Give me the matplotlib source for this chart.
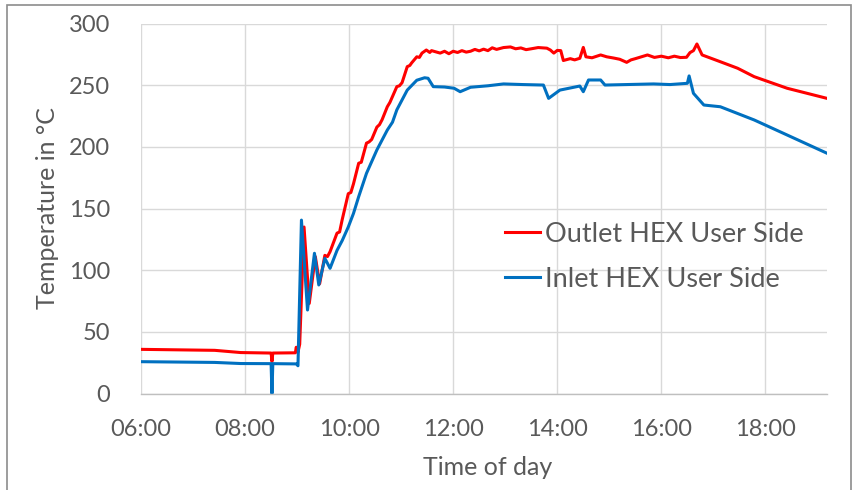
import matplotlib.pyplot as plt
import matplotlib.dates as mdates
from matplotlib.patches import Rectangle
import pandas as pd

# Outlet HEX User Side (red)
outlet_times = ["06:00", "07:25", "07:55", "08:30", "08:31", "08:32", "08:58", "08:59",
                "09:01", "09:03", "09:08", "09:14", "09:21", "09:26", "09:32", "09:35",
                "09:38", "09:46", "09:49", "09:52", "09:59", "10:02", "10:05", "10:11",
                "10:14", "10:20", "10:23", "10:26", "10:32", "10:35", "10:38", "10:44",
                "10:47", "10:55", "10:58", "11:01", "11:07", "11:10", "11:12", "11:18",
                "11:21", "11:24", "11:29", "11:33", "11:35", "11:40", "11:45", "11:50",
                "11:55", "12:00", "12:05", "12:10", "12:15", "12:20", "12:25", "12:30",
                "12:35", "12:40", "12:45", "12:50", "12:58", "13:06", "13:12", "13:18",
                "13:24", "13:30", "13:38", "13:48", "13:52", "13:56", "14:00", "14:04",
                "14:07", "14:15", "14:20", "14:26", "14:30", "14:33", "14:40", "14:50",
                "14:57", "15:05", "15:12", "15:20", "15:25", "15:30", "15:37", "15:44",
                "15:52", "16:00", "16:08", "16:15", "16:22", "16:29", "16:33", "16:37",
                "16:41", "16:47", "17:08", "17:28", "17:47", "18:25", "19:11"]
outlet_temp = [35.8, 35.0, 33.2, 32.8, 26.0, 32.8, 33.0, 37.5,
               33.5, 40.0, 135.0, 73.0, 111.0, 89.0, 112.0, 111.0,
               115.0, 130.0, 131.0, 141.0, 162.0, 163.0, 170.0, 186.7,
               187.5, 203.0, 204.0, 206.0, 216.0, 218.0, 222.0, 232.5,
               236.0, 248.8, 249.5, 252.0, 265.0, 266.0, 268.0, 273.0,
               272.5, 276.0, 278.5, 276.5, 278.0, 277.0, 276.0, 277.5,
               275.5, 277.5, 276.5, 278.0, 276.8, 277.5, 279.0, 277.8,
               279.2, 278.0, 280.3, 279.0, 280.5, 281.0, 279.5, 280.2,
               278.8, 279.5, 280.5, 280.0, 278.5, 276.0, 278.2, 278.0,
               270.0, 271.5, 270.5, 271.8, 280.6, 273.0, 272.2, 274.5,
               273.0, 272.0, 271.0, 268.5, 270.5, 271.5, 273.0, 274.5,
               272.5, 273.5, 272.2, 273.5, 272.4, 272.6, 276.4, 278.0,
               283.4, 274.5, 269.0, 263.7, 256.9, 247.5, 239.3]

# Inlet HEX User Side (blue)
inlet_times = ["06:00", "07:25", "07:55", "08:30", "08:31", "08:32", "08:59", "09:01",
               "09:05", "09:12", "09:20", "09:25", "09:32", "09:38", "09:46", "09:52",
               "09:59", "10:05", "10:11", "10:20", "10:26", "10:32", "10:44", "10:50",
               "10:55", "11:07", "11:18", "11:27", "11:31", "11:37", "11:50", "12:01",
               "12:08", "12:20", "12:40", "12:58", "13:20", "13:44", "13:50", "14:03",
               "14:26", "14:30", "14:36", "14:50", "14:55", "15:20", "15:51", "16:10",
               "16:30", "16:32", "16:37", "16:49", "17:08", "17:47", "18:25", "19:11"]
inlet_temp = [25.8, 25.2, 24.3, 24.2, 0.0, 24.2, 24.0, 22.5,
              140.6, 67.7, 113.7, 88.0, 109.6, 101.5, 116.0, 124.0,
              135.0, 146.0, 159.6, 178.5, 188.0, 197.5, 213.6, 220.0,
              230.0, 246.0, 254.0, 256.0, 255.6, 248.8, 248.5, 247.5,
              244.7, 248.3, 249.5, 251.0, 250.5, 250.1, 239.3, 246.0,
              249.3, 244.7, 254.2, 254.2, 250.1, 250.5, 251.0, 250.5,
              251.5, 257.5, 243.4, 233.9, 232.5, 221.8, 209.6, 194.8]

x_ticks = ["06:00", "08:00", "10:00", "12:00", "14:00", "16:00", "18:00"]
y_ticks = [0, 50, 100, 150, 200, 250, 300]

plt.rcParams['font.family'] = ['Lato', 'DejaVu Sans']
text_grey = '#595959'

fig = plt.figure(figsize=(8.61, 4.90), dpi=100)
ax = fig.add_axes([141 / 861, 1 - 393.5 / 490, 686 / 861, 370 / 490])

to_time = lambda t: pd.to_datetime(t, format="%H:%M")
ax.plot(to_time(outlet_times), outlet_temp, color='#FF0000', lw=2.2,
        label='Outlet HEX User Side', solid_joinstyle='round')
ax.plot(to_time(inlet_times), inlet_temp, color='#0070C0', lw=2.2,
        label='Inlet HEX User Side', solid_joinstyle='round')

ax.set_xlim(to_time("06:00"), to_time("19:11"))
ax.set_ylim(0, 300)
ax.set_xticks(to_time(x_ticks))
ax.xaxis.set_major_formatter(mdates.DateFormatter('%H:%M'))
ax.set_yticks(y_ticks)

ax.grid(True, color='#D9D9D9', lw=1.0)
ax.set_axisbelow(True)
for side in ['top', 'right', 'left']:
    ax.spines[side].set_visible(False)
ax.spines['bottom'].set_color('#BFBFBF')
ax.spines['bottom'].set_linewidth(1.0)
ax.tick_params(axis='both', length=0, labelsize=17, labelcolor=text_grey)
ax.tick_params(axis='y', pad=22)
ax.tick_params(axis='x', pad=18)

ax.set_xlabel('Time of day', fontsize=18, color=text_grey)
ax.set_ylabel('Temperature in °C', fontsize=18, color=text_grey)
ax.xaxis.set_label_coords(0.506, -0.168)
ax.yaxis.set_label_coords(-0.12, 0.5)

leg = ax.legend(loc='upper left', bbox_to_anchor=(491 / 861, 1 - 208 / 490),
                bbox_transform=fig.transFigure, frameon=False, fontsize=19.5,
                handlelength=1.3, handletextpad=0.2, borderpad=0, labelspacing=0.75)
for txt in leg.get_texts():
    txt.set_color(text_grey)

fig.patches.append(Rectangle((7 / 861, -0.05), 844 / 861, 1.05 - 5 / 490,
                             transform=fig.transFigure, fill=False,
                             edgecolor='#8C8C8C', lw=1.2))

fig.savefig('out.png', dpi=100)
